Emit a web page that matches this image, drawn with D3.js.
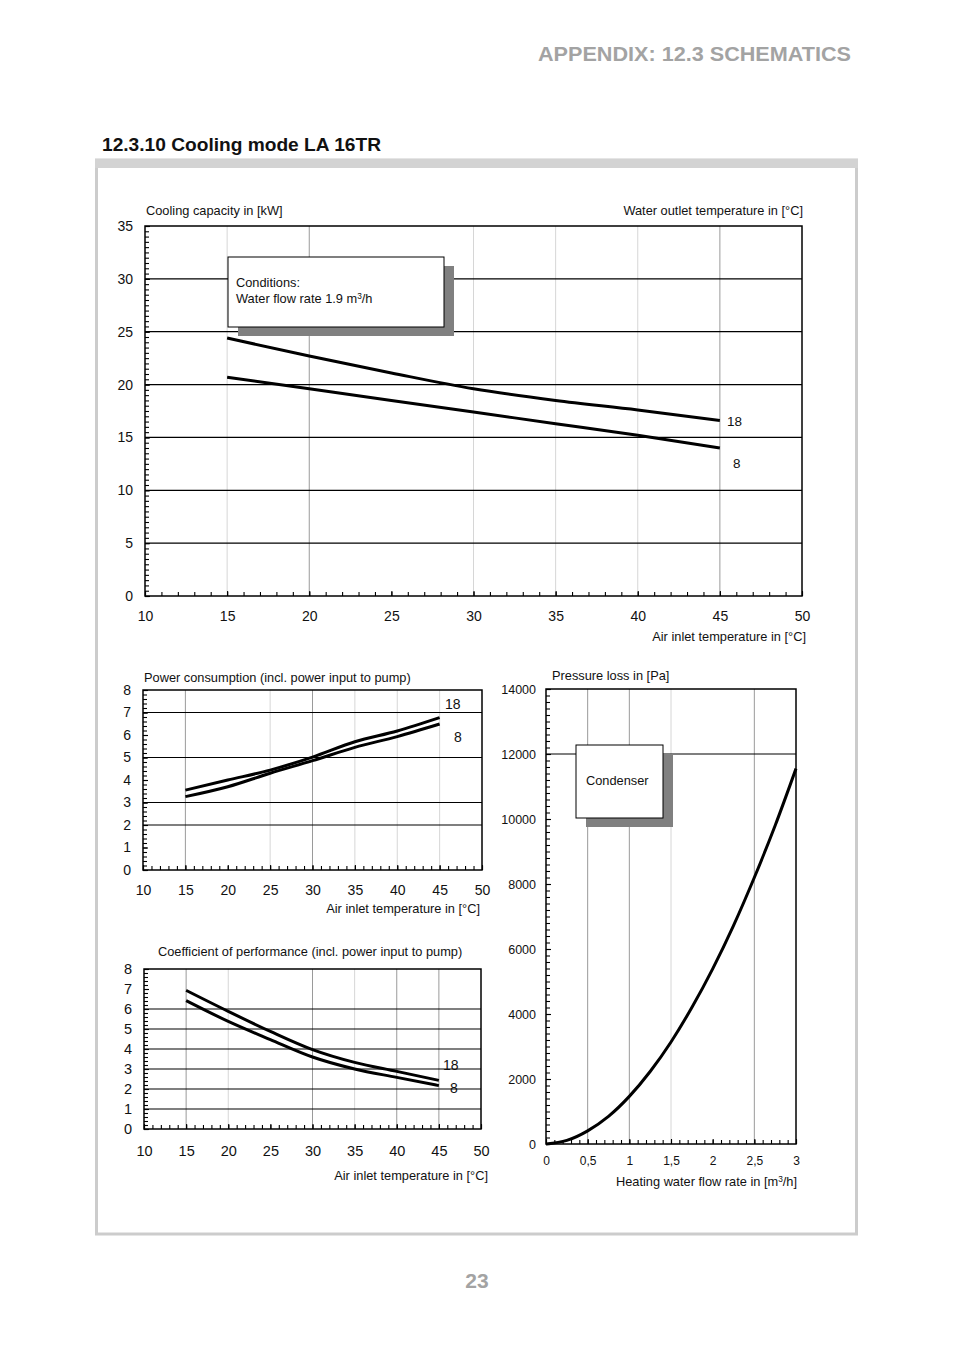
<!DOCTYPE html>
<html>
<head>
<meta charset="utf-8">
<script src="https://cdn.jsdelivr.net/npm/d3@7"></script>
<style>
  html, body { margin: 0; padding: 0; background: #fff; }
  svg { display: block; font-family: "Liberation Sans", Arial, sans-serif; }
</style>
</head>
<body>
<svg id="page" width="954" height="1351"></svg>
<script>
// ---------------- DATA ----------------
const airTemps = [15, 20, 25, 30, 35, 40, 45];
const capacity18 = [24.4, 22.7, 21.1, 19.6, 18.5, 17.6, 16.6];
const capacity8  = [20.7, 19.6, 18.5, 17.4, 16.3, 15.2, 14.0];
const power18 = [3.55, 4.0, 4.44, 5.02, 5.70, 6.18, 6.77];
const power8  = [3.26, 3.70, 4.30, 4.86, 5.45, 5.93, 6.49];
const cop18 = [6.93, 5.88, 4.88, 3.97, 3.33, 2.88, 2.43];
const cop8  = [6.42, 5.38, 4.47, 3.60, 3.00, 2.58, 2.17];
const flowRates = [0, 0.25, 0.5, 0.75, 1, 1.25, 1.5, 1.75, 2, 2.25, 2.5, 2.75, 3];
const pressureLoss = [0, 110, 405, 850, 1465, 2230, 3140, 4200, 5390, 6720, 8200, 9800, 11550];
const seriesNames = ["18", "8"];
const airTicks = [10, 15, 20, 25, 30, 35, 40, 45, 50];
const capacityTicks = [0, 5, 10, 15, 20, 25, 30, 35];
const smallTicks = [0, 1, 2, 3, 4, 5, 6, 7, 8];
const flowTicks = [0, 0.5, 1, 1.5, 2, 2.5, 3];
const flowTickLabels = ["0", "0,5", "1", "1,5", "2", "2,5", "3"];
const pressureTicks = [0, 2000, 4000, 6000, 8000, 10000, 12000, 14000];

// ---------------- PAGE ----------------
const svg = d3.select("#page");
const FONT = '"Liberation Sans", Arial, sans-serif';
const DARK = "#9a9a9a", LIGHT = "#d6d6d6";
const TS = 12.8; // small caption size

svg.append("text").attr("x", 851).attr("y", 61).attr("text-anchor", "end")
  .attr("font-size", 21).attr("font-weight", "bold").attr("fill", "#a3a3a3")
  .attr("textLength", 313).attr("lengthAdjust", "spacingAndGlyphs")
  .text("APPENDIX: 12.3 SCHEMATICS");
svg.append("text").attr("x", 102).attr("y", 151)
  .attr("font-size", 19).attr("font-weight", "bold").attr("fill", "#111")
  .attr("textLength", 279).attr("lengthAdjust", "spacingAndGlyphs")
  .text("12.3.10 Cooling mode LA 16TR");
// frame
svg.append("rect").attr("x", 96.5).attr("y", 160).attr("width", 760).attr("height", 1074)
  .attr("fill", "none").attr("stroke", "#cccccc").attr("stroke-width", 3);
svg.append("rect").attr("x", 95).attr("y", 159).attr("width", 763).attr("height", 9).attr("fill", "#d3d3d3");
svg.append("text").attr("x", 477).attr("y", 1288).attr("text-anchor", "middle")
  .attr("font-size", 21).attr("font-weight", "bold").attr("fill", "#a3a3a3").text("23");

// ---------------- GENERIC CHART ----------------
function chart(cfg) {
  const g = svg.append("g");
  const x = d3.scaleLinear().domain(cfg.xDomain).range([cfg.x0, cfg.x1]);
  const y = d3.scaleLinear().domain(cfg.yDomain).range([cfg.y0, cfg.y1]);

  cfg.vgrid.forEach(([v, c]) => {
    g.append("line").attr("x1", x(v)).attr("x2", x(v)).attr("y1", cfg.y0).attr("y2", cfg.y1)
      .attr("stroke", c).attr("stroke-width", 1);
  });
  cfg.hgrid.forEach(v => {
    g.append("line").attr("x1", cfg.x0).attr("x2", cfg.x1).attr("y1", y(v)).attr("y2", y(v))
      .attr("stroke", "#000").attr("stroke-width", 1.2);
  });

  const minorX = d3.range(cfg.xDomain[0], cfg.xDomain[1] + 1e-9, cfg.xMinor);
  const minorY = d3.range(cfg.yDomain[0], cfg.yDomain[1] + 1e-9, cfg.yMinor);
  g.append("g").attr("transform", `translate(0,${cfg.y0})`)
    .call(d3.axisBottom(x).tickValues(minorX).tickSize(-4).tickFormat(""))
    .call(a => a.select(".domain").remove())
    .call(a => a.selectAll("line").attr("stroke", "#000").attr("stroke-width", 1.1));
  g.append("g").attr("transform", `translate(${cfg.x0},0)`)
    .call(d3.axisLeft(y).tickValues(minorY).tickSize(-4).tickFormat(""))
    .call(a => a.select(".domain").remove())
    .call(a => a.selectAll("line").attr("stroke", "#000").attr("stroke-width", 1.1));

  const ax = g.append("g").attr("transform", `translate(0,${cfg.y0})`)
    .call(d3.axisBottom(x).tickValues(cfg.xTicks).tickSize(-5).tickPadding(cfg.xPad)
      .tickFormat((d, i) => cfg.xLabels ? cfg.xLabels[i] : d));
  ax.select(".domain").remove();
  ax.selectAll("line").attr("stroke", "#000").attr("stroke-width", 1.1);
  ax.selectAll("text").attr("font-family", FONT).attr("font-size", cfg.xFont).attr("fill", "#111");

  const ay = g.append("g").attr("transform", `translate(${cfg.x0},0)`)
    .call(d3.axisLeft(y).tickValues(cfg.yTicks).tickSize(-5).tickPadding(cfg.yPad).tickFormat(d => d));
  ay.select(".domain").remove();
  ay.selectAll("line").attr("stroke", "#000").attr("stroke-width", 1.1);
  ay.selectAll("text").attr("font-family", FONT).attr("font-size", cfg.yFont).attr("fill", "#111");

  if (cfg.box) {
    const b = cfg.box;
    g.append("rect").attr("x", b.x + 10).attr("y", b.y + 9).attr("width", b.w).attr("height", b.h).attr("fill", "#808080");
    g.append("rect").attr("x", b.x).attr("y", b.y).attr("width", b.w).attr("height", b.h)
      .attr("fill", "#fff").attr("stroke", "#000").attr("stroke-width", 1);
    b.lines.forEach((t, i) => {
      const tx = g.append("text").attr("x", b.x + b.tx).attr("y", b.y + b.ty + i * 16)
        .attr("font-size", b.font).attr("fill", "#111");
      if (Array.isArray(t)) {
        tx.append("tspan").text(t[0]);
        tx.append("tspan").attr("font-size", b.font * 0.65).attr("dy", -4).text(t[1]);
        tx.append("tspan").attr("dy", 4).text(t[2]);
      } else tx.text(t);
    });
  }

  g.append("rect").attr("x", cfg.x0).attr("y", cfg.y1).attr("width", cfg.x1 - cfg.x0).attr("height", cfg.y0 - cfg.y1)
    .attr("fill", "none").attr("stroke", "#000").attr("stroke-width", 1.5);

  const line = d3.line().x(d => x(d[0])).y(d => y(d[1])).curve(d3.curveMonotoneX);
  cfg.series.forEach(s => {
    g.append("path").datum(s.xs.map((v, i) => [v, s.ys[i]]))
      .attr("d", line).attr("fill", "none").attr("stroke", "#000").attr("stroke-width", 3)
      .attr("stroke-linecap", "butt");
  });

  (cfg.seriesLabels || []).forEach(l => {
    g.append("text").attr("x", l.x).attr("y", l.y).attr("font-size", l.size).attr("fill", "#111").text(l.t);
  });

  cfg.titles.forEach(t => {
    const tx = g.append("text").attr("x", t.x).attr("y", t.y).attr("text-anchor", t.anchor || "start")
      .attr("font-size", t.size).attr("fill", "#111");
    if (Array.isArray(t.t)) {
      tx.append("tspan").text(t.t[0]);
      tx.append("tspan").attr("font-size", t.size * 0.65).attr("dy", -4).text(t.t[1]);
      tx.append("tspan").attr("dy", 4).text(t.t[2]);
    } else tx.text(t.t);
  });
}

// ---------------- CHART 1: cooling capacity ----------------
chart({
  xDomain: [10, 50], yDomain: [0, 35], x0: 145, x1: 802, y0: 596, y1: 226,
  xTicks: airTicks, yTicks: capacityTicks, xMinor: 1, yMinor: 0.5,
  xPad: 15, yPad: 12, xFont: 14, yFont: 14,
  vgrid: [[15, LIGHT], [20, DARK], [30, LIGHT], [35, LIGHT], [40, LIGHT], [45, DARK]],
  hgrid: [5, 10, 15, 20, 25, 30],
  box: { x: 228, y: 257, w: 216, h: 70, tx: 8, ty: 30, font: TS,
         lines: ["Conditions:", ["Water flow rate 1.9 m", "3", "/h"]] },
  series: [{ xs: airTemps, ys: capacity18 }, { xs: airTemps, ys: capacity8 }],
  seriesLabels: [{ t: seriesNames[0], x: 727, y: 426, size: 13.5 }, { t: seriesNames[1], x: 733, y: 468, size: 13.5 }],
  titles: [
    { t: "Cooling capacity in [kW]", x: 146, y: 215, size: TS },
    { t: "Water outlet temperature in [°C]", x: 803, y: 215, size: TS, anchor: "end" },
    { t: "Air inlet temperature in [°C]", x: 806, y: 641, size: TS, anchor: "end" }
  ]
});

// ---------------- CHART 2: power consumption ----------------
chart({
  xDomain: [10, 50], yDomain: [0, 8], x0: 143, x1: 482, y0: 870, y1: 690,
  xTicks: airTicks, yTicks: smallTicks, xMinor: 1, yMinor: 0.2,
  xPad: 15, yPad: 12, xFont: 14, yFont: 14,
  vgrid: [[15, DARK], [25, LIGHT], [30, DARK], [35, LIGHT], [40, LIGHT], [45, LIGHT]],
  hgrid: [2, 3, 5, 7],
  series: [{ xs: airTemps, ys: power18 }, { xs: airTemps, ys: power8 }],
  seriesLabels: [{ t: seriesNames[0], x: 445, y: 709, size: 14 }, { t: seriesNames[1], x: 454, y: 742, size: 14 }],
  titles: [
    { t: "Power consumption (incl. power input to pump)", x: 144, y: 682, size: TS },
    { t: "Air inlet temperature in [°C]", x: 480, y: 913, size: TS, anchor: "end" }
  ]
});

// ---------------- CHART 3: COP ----------------
chart({
  xDomain: [10, 50], yDomain: [0, 8], x0: 144, x1: 481, y0: 1129, y1: 969,
  xTicks: airTicks, yTicks: smallTicks, xMinor: 1, yMinor: 0.2,
  xPad: 17, yPad: 12, xFont: 14.5, yFont: 14.5,
  vgrid: [[15, DARK], [20, LIGHT], [30, DARK], [35, LIGHT], [40, DARK], [45, DARK]],
  hgrid: [1, 2, 3, 4, 5, 6],
  series: [{ xs: airTemps, ys: cop18 }, { xs: airTemps, ys: cop8 }],
  seriesLabels: [{ t: seriesNames[0], x: 443, y: 1070, size: 14 }, { t: seriesNames[1], x: 450, y: 1093, size: 14 }],
  titles: [
    { t: "Coefficient of performance (incl. power input to pump)", x: 158, y: 956, size: TS },
    { t: "Air inlet temperature in [°C]", x: 488, y: 1180, size: TS, anchor: "end" }
  ]
});

// ---------------- CHART 4: pressure loss ----------------
chart({
  xDomain: [0, 3], yDomain: [0, 14000], x0: 546, x1: 796, y0: 1144, y1: 689,
  xTicks: flowTicks, xLabels: flowTickLabels, yTicks: pressureTicks, xMinor: 0.1, yMinor: 200,
  xPad: 12, yPad: 10, xFont: 12, yFont: 12.5,
  vgrid: [[0.5, DARK], [1, DARK], [1.5, LIGHT], [2.5, DARK]],
  hgrid: [12000],
  box: { x: 576, y: 745, w: 87, h: 73, tx: 10, ty: 40, font: TS, lines: ["Condenser"] },
  series: [{ xs: flowRates, ys: pressureLoss }],
  titles: [
    { t: "Pressure loss in [Pa]", x: 552, y: 680, size: TS },
    { t: ["Heating water flow rate in [m", "3", "/h]"], x: 797, y: 1186, size: TS, anchor: "end" }
  ]
});
</script>
</body>
</html>
